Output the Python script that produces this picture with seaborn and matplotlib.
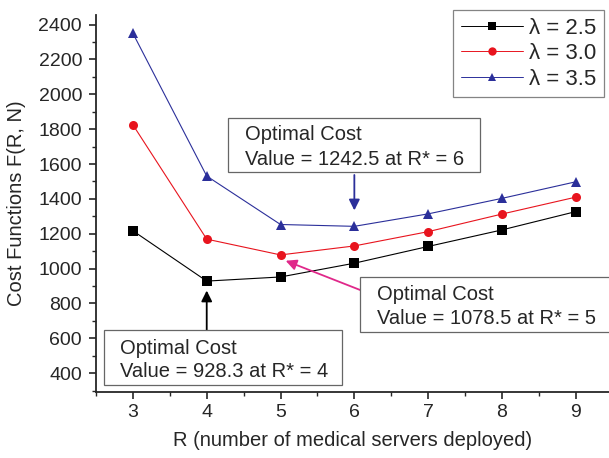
import matplotlib
matplotlib.use("Agg")
import matplotlib.pyplot as plt
import pandas as pd
import seaborn as sns
from matplotlib.patches import Rectangle
from matplotlib.ticker import MultipleLocator

# data
servers = [3, 4, 5, 6, 7, 8, 9]
cost_l25 = [1217, 928.3, 952, 1031, 1127, 1222, 1327]
cost_l30 = [1825, 1169, 1078.5, 1130, 1212, 1313, 1410]
cost_l35 = [2350, 1531, 1253, 1242.5, 1314, 1403, 1498]
series_labels = ["λ = 2.5", "λ = 3.0", "λ = 3.5"]

df = pd.concat(
    [
        pd.DataFrame({"R": servers, "cost": vals, "series": lab})
        for vals, lab in zip([cost_l25, cost_l30, cost_l35], series_labels)
    ],
    ignore_index=True,
)

sns.set_style("ticks")
plt.rcParams["font.family"] = ["Liberation Sans", "DejaVu Sans"]

fig = plt.figure(figsize=(6.09, 4.58), dpi=100)
ax = fig.add_axes([96 / 609, 1 - 392 / 458, 1 - 96 / 609, (392 - 15) / 458])

palette = {series_labels[0]: "black", series_labels[1]: "#e8141e", series_labels[2]: "#2b2f9a"}
markers = {series_labels[0]: "s", series_labels[1]: "o", series_labels[2]: "^"}
sns.lineplot(
    data=df, x="R", y="cost", hue="series", style="series",
    palette=palette, markers=markers, dashes=False,
    linewidth=0.8, markersize=6.5, markeredgewidth=0, ax=ax,
)

ax.set_xlim(2.5, 9.45)
ax.set_ylim(292, 2455)
ax.xaxis.set_major_locator(MultipleLocator(1))
ax.xaxis.set_minor_locator(MultipleLocator(0.5))
ax.set_yticks(range(400, 2401, 200))
ax.yaxis.set_minor_locator(MultipleLocator(100))
ax.tick_params(which="major", direction="out", length=5, width=1.2, labelsize=14)
ax.tick_params(axis="y", which="major", pad=5)
ax.tick_params(axis="x", which="major", pad=3.5)
ax.tick_params(which="minor", direction="out", length=3, width=1.0)
for side in ["left", "bottom"]:
    ax.spines[side].set_linewidth(1.3)
sns.despine(ax=ax)

ax.set_xlabel("R (number of medical servers deployed)", fontsize=14.5, labelpad=7)
ax.set_ylabel("Cost Functions F(R, N)", fontsize=14.5, labelpad=9)

handles, labels = ax.get_legend_handles_labels()
ax.get_legend().remove()
leg = fig.legend(
    handles, labels, loc="upper right",
    bbox_to_anchor=(604 / 609, 1 - 10 / 458), bbox_transform=fig.transFigure,
    borderaxespad=0, fontsize=16, frameon=True, fancybox=False, edgecolor="#666666",
    handlelength=2.8, labelspacing=0.2, borderpad=0.35, handletextpad=0.25,
)
leg.get_frame().set_linewidth(0.9)
for h in leg.legend_handles:
    h.set_markersize(6)
    h.set_linewidth(0.7)

# annotation boxes (data coords)
boxes = [
    (4.287, 1552.6, 7.702, 1861.8, 4.518, 1735.8, 1592.6, "Value = 1242.5 at R* = 6"),
    (6.076, 636.4, 9.48, 951.3, 6.306, 819.6, 682.2, "Value = 1078.5 at R* = 5"),
    (2.607, 333.0, 5.832, 647.8, 2.824, 510.4, 378.7, "Value = 928.3 at R* = 4"),
]
for x0, y0, x1, y1, tx, ty1, ty2, line2 in boxes:
    ax.add_patch(Rectangle((x0, y0), x1 - x0, y1 - y0, facecolor="white",
                           edgecolor="#666666", linewidth=0.9, zorder=5, clip_on=False))
    ax.text(tx, ty1, "Optimal Cost", ha="left", va="baseline", fontsize=14.5, zorder=6)
    ax.text(tx, ty2, line2, ha="left", va="baseline", fontsize=14.5, zorder=6)

ax.annotate("", xy=(6, 1318), xytext=(6, 1553),
            arrowprops=dict(arrowstyle="-|>", color="#2b2f9a", lw=1.3, mutation_scale=16))
ax.annotate("", xy=(5.07, 1045), xytext=(6.08, 877),
            arrowprops=dict(arrowstyle="-|>", color="#e0288a", lw=1.3, mutation_scale=16,
                            shrinkA=0, shrinkB=0))
ax.annotate("", xy=(4, 890), xytext=(4, 648),
            arrowprops=dict(arrowstyle="-|>", color="black", lw=1.3, mutation_scale=16,
                            shrinkA=0))

fig.savefig("out.png", dpi=100)
